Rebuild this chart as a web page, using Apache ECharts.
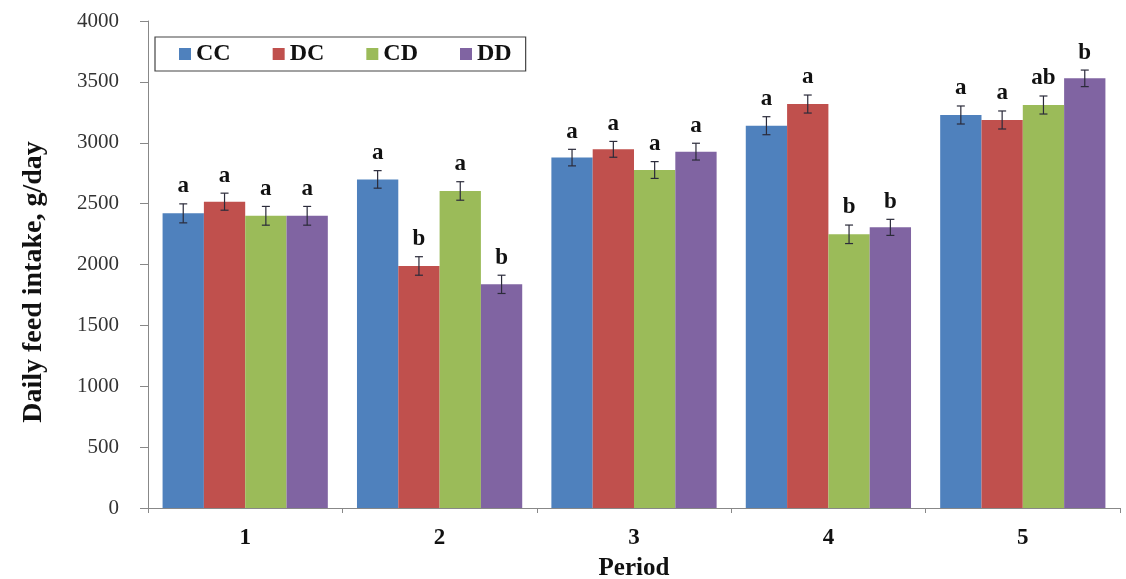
<!DOCTYPE html>
<html>
<head>
<meta charset="utf-8">
<script src="https://cdn.jsdelivr.net/npm/echarts@6/dist/echarts.min.js"></script>
<style>
html,body{margin:0;padding:0;background:#fff;}
#chart{width:1126px;height:579px;}
</style>
</head>
<body>
<div id="chart"></div>
<script>
var categories = ['1', '2', '3', '4', '5'];
var seriesNames = ['CC', 'DC', 'CD', 'DD'];
var seriesColors = ['#4F81BD', '#C0504D', '#9BBB59', '#8064A2'];
var valCC = [2420, 2699, 2878, 3140, 3228];
var valDC = [2516, 1988, 2946, 3318, 3187];
var valCD = [2400, 2604, 2776, 2248, 3310];
var valDD = [2400, 1837, 2927, 2305, 3529];
var errCC = [78, 72, 68, 74, 74];
var errDC = [70, 76, 65, 74, 74];
var errCD = [77, 76, 69, 76, 74];
var errDD = [77, 75, 69, 66, 68];
var letCC = ['a', 'a', 'a', 'a', 'a'];
var letDC = ['a', 'b', 'a', 'a', 'a'];
var letCD = ['a', 'a', 'a', 'b', 'ab'];
var letDD = ['a', 'b', 'a', 'b', 'b'];
var yTicks = { min: 0, max: 4000, interval: 500 };

var values = [valCC, valDC, valCD, valDD];
var errors = [errCC, errDC, errCD, errDD];
var letters = [letCC, letDC, letCD, letDD];
var catGap = 0.15;
var serifFont = '"Liberation Serif", "DejaVu Serif", serif';

var series = [];
seriesNames.forEach(function (name, i) {
  series.push({
    name: name,
    type: 'bar',
    data: values[i],
    barGap: '0%',
    barCategoryGap: (catGap * 100) + '%',
    itemStyle: { color: seriesColors[i] }
  });
});
seriesNames.forEach(function (name, i) {
  series.push({
    type: 'custom',
    name: name + '_err',
    silent: true,
    z: 10,
    data: values[i].map(function (v, k) { return [k, v, errors[i][k]]; }),
    renderItem: function (params, api) {
      var k = api.value(0), v = api.value(1), e = api.value(2);
      var catW = api.size([1, 0])[0];
      var barW = catW * (1 - catGap) / seriesNames.length;
      var dx = (i - (seriesNames.length - 1) / 2) * barW;
      var top = api.coord([k, v + e]);
      var bot = api.coord([k, v - e]);
      var x = top[0] + dx;
      var cap = 4;
      var st = { stroke: '#2b2b3a', lineWidth: 1.2 };
      return {
        type: 'group',
        children: [
          { type: 'line', shape: { x1: x, y1: top[1], x2: x, y2: bot[1] }, style: st },
          { type: 'line', shape: { x1: x - cap, y1: top[1], x2: x + cap, y2: top[1] }, style: st },
          { type: 'line', shape: { x1: x - cap, y1: bot[1], x2: x + cap, y2: bot[1] }, style: st },
          { type: 'text', x: x, y: top[1] - 6,
            style: { text: letters[i][params.dataIndex], fill: '#111', font: 'bold 23px ' + serifFont,
                     textAlign: 'center', textVerticalAlign: 'bottom' } }
        ]
      };
    }
  });
});

var chart = echarts.init(document.getElementById('chart'), null, { renderer: 'canvas' });
chart.setOption({
  animation: false,
  backgroundColor: '#fff',
  grid: { left: 148, right: 6, top: 21, bottom: 71, containLabel: false, outerBoundsMode: 'none' },
  legend: {
    data: seriesNames,
    left: 155, top: 37,
    orient: 'horizontal',
    icon: 'rect',
    itemWidth: 12, itemHeight: 12,
    itemGap: 42,
    padding: [5, 14, 5, 24],
    borderColor: '#444', borderWidth: 1.2,
    textStyle: { fontFamily: serifFont, fontWeight: 'bold', fontSize: 24, color: '#111' }
  },
  xAxis: {
    type: 'category',
    data: categories,
    name: 'Period',
    nameLocation: 'middle',
    nameGap: 48,
    nameTextStyle: { fontFamily: serifFont, fontWeight: 'bold', fontSize: 25, color: '#111' },
    axisLine: { lineStyle: { color: '#888', width: 1 } },
    axisTick: { show: true, alignWithLabel: false, length: 5, lineStyle: { color: '#888' } },
    axisLabel: { fontFamily: serifFont, fontWeight: 'bold', fontSize: 23, color: '#111', margin: 19 }
  },
  yAxis: {
    type: 'value',
    min: yTicks.min, max: yTicks.max, interval: yTicks.interval,
    name: 'Daily feed intake, g/day',
    nameLocation: 'middle',
    nameGap: 100,
    nameTextStyle: { fontFamily: serifFont, fontWeight: 'bold', fontSize: 28, color: '#111',
                     padding: [0, 35, 0, 0] },
    axisLine: { show: true, lineStyle: { color: '#888', width: 1 } },
    axisTick: { show: true, length: 8, lineStyle: { color: '#888' } },
    splitLine: { show: false },
    axisLabel: { fontFamily: serifFont, fontSize: 21, color: '#333', margin: 29,
                 formatter: function (v) { return String(v); } }
  },
  series: series
});
</script>
</body>
</html>
